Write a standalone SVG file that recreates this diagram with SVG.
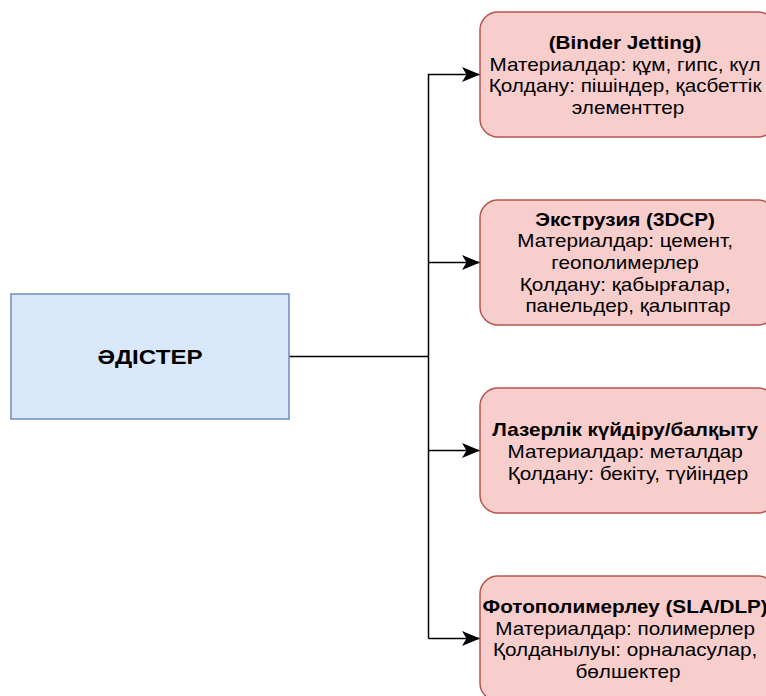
<svg xmlns="http://www.w3.org/2000/svg" width="766" height="696" viewBox="0 0 766 696">
<defs>
<style>
.main{fill:#dae8fc;stroke:#6c8ebf;stroke-width:1.5}
.box{fill:#f8cecc;stroke:#b85450;stroke-width:1.5}
.t{font-family:"Liberation Sans",Arial,sans-serif;font-size:18px;fill:#000;text-anchor:middle}
.b{font-weight:bold}
.c{fill:none;stroke:#000;stroke-width:1.5}
</style>
<marker id="arr" markerUnits="userSpaceOnUse" viewBox="0 0 18 16" refX="18" refY="8" markerWidth="18" markerHeight="16" orient="auto">
<path d="M18,8 L0,0.5 L4.5,8 L0,15.5 Z" fill="#000"/>
</marker>
</defs>
<rect width="766" height="696" fill="#fff"/>
<g id="connectors">
<path class="c" d="M289,356.5 H428.5"/>
<path class="c" d="M428.5,638.5 V74.5 H480" marker-end="url(#arr)"/>
<path class="c" d="M428.5,262.5 H480" marker-end="url(#arr)"/>
<path class="c" d="M428.5,450.5 H480" marker-end="url(#arr)"/>
<path class="c" d="M428.5,638.5 H480" marker-end="url(#arr)"/>
</g>
<g id="node-main">
<rect class="main" x="11" y="294" width="278" height="125"/>
<text class="t b" x="150" y="364" style="font-size:21px" transform="matrix(1.15,0,0,1,-22.5,0)">ӘДІСТЕР</text>
</g>
<g id="node-binder">
<rect class="box" x="480" y="12" width="296" height="125" rx="18" ry="18"/>
<text class="t" x="628" transform="matrix(1.15,0,0,1,-94.2,0)">
<tspan class="b" x="628" y="49">(Binder Jetting)</tspan>
<tspan x="628" y="70.6">Материалдар: құм, гипс, күл</tspan>
<tspan x="628" y="92.2">Қолдану: пішіндер, қасбеттік</tspan>
<tspan x="628" y="113.8">элементтер</tspan>
</text>
</g>
<g id="node-extrusion">
<rect class="box" x="480" y="200" width="296" height="125" rx="18" ry="18"/>
<text class="t" x="628" transform="matrix(1.15,0,0,1,-94.2,0)">
<tspan class="b" x="628" y="225.9">Экструзия (3DCP)</tspan>
<tspan x="628" y="247.5">Материалдар: цемент,</tspan>
<tspan x="628" y="269.1">геополимерлер</tspan>
<tspan x="628" y="290.7">Қолдану: қабырғалар,</tspan>
<tspan x="628" y="312.3">панельдер, қалыптар</tspan>
</text>
</g>
<g id="node-laser">
<rect class="box" x="480" y="388" width="296" height="125" rx="18" ry="18"/>
<text class="t" x="628" transform="matrix(1.15,0,0,1,-94.2,0)">
<tspan class="b" x="628" y="436.5">Лазерлік күйдіру/балқыту</tspan>
<tspan x="628" y="458.1">Материалдар: металдар</tspan>
<tspan x="628" y="479.7">Қолдану: бекіту, түйіндер</tspan>
</text>
</g>
<g id="node-photo">
<rect class="box" x="480" y="576" width="296" height="125" rx="18" ry="18"/>
<text class="t" x="628" transform="matrix(1.15,0,0,1,-94.2,0)">
<tspan class="b" x="628" y="613">Фотополимерлеу (SLA/DLP)</tspan>
<tspan x="628" y="634.6">Материалдар: полимерлер</tspan>
<tspan x="628" y="656.2">Қолданылуы: орналасулар,</tspan>
<tspan x="628" y="677.8">бөлшектер</tspan>
</text>
</g>
</svg>
